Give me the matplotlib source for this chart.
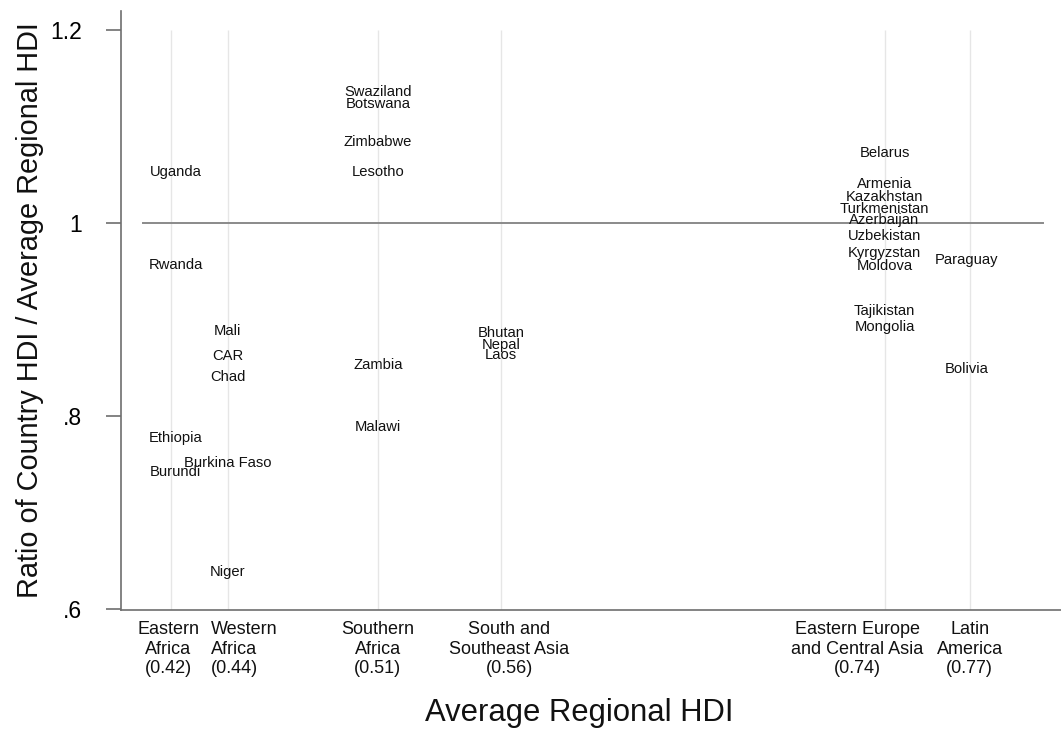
import matplotlib
matplotlib.use("Agg")
import matplotlib.pyplot as plt

plt.rcParams['font.family'] = ['Liberation Sans', 'DejaVu Sans']

# ---------------- data ----------------
regions = ["Eastern\nAfrica\n(0.42)", "Western\nAfrica\n(0.44)", "Southern\nAfrica\n(0.51)",
           "South and\nSoutheast Asia\n(0.56)", "Eastern Europe\nand Central Asia\n(0.74)",
           "Latin\nAmerica\n(0.77)"]
region_hdi = [0.417, 0.442, 0.509, 0.564, 0.735, 0.773]

countries = ["Uganda", "Rwanda", "Ethiopia", "Burundi",
             "Mali", "CAR", "Chad", "Burkina Faso", "Niger",
             "Swaziland", "Botswana", "Zimbabwe", "Lesotho", "Zambia", "Malawi",
             "Bhutan", "Nepal", "Laos",
             "Belarus", "Armenia", "Kazakhstan", "Turkmenistan", "Azerbaijan",
             "Uzbekistan", "Kyrgyzstan", "Moldova", "Tajikistan", "Mongolia",
             "Paraguay", "Bolivia"]
country_region = [0, 0, 0, 0,
                  1, 1, 1, 1, 1,
                  2, 2, 2, 2, 2, 2,
                  3, 3, 3,
                  4, 4, 4, 4, 4, 4, 4, 4, 4, 4,
                  5, 5]
ratio = [1.0525, 0.957, 0.777, 0.742,
         0.888, 0.862, 0.840, 0.751, 0.638,
         1.136, 1.123, 1.084, 1.0525, 0.853, 0.789,
         0.886, 0.874, 0.863,
         1.073, 1.040, 1.027, 1.015, 1.003, 0.987, 0.969, 0.955, 0.9085, 0.892,
         0.962, 0.849]

yticks = [0.6, 0.8, 1.0, 1.2]
ytick_labels = [".6", ".8", "1", "1.2"]

# ---------------- layout ----------------
W, H = 1061, 733
fig = plt.figure(figsize=(W / 100, H / 100), dpi=100)
ax_l, ax_r, ax_t, ax_b = 121, 1061, 11, 610
ax = fig.add_axes([ax_l / W, 1 - ax_b / H, (ax_r - ax_l) / W, (ax_b - ax_t) / H])

ax.set_xlim(0.3945, 0.8137)
ax.set_ylim(0.599, 1.2197)

axis_col = "#6e6e6e"
for s in ["top", "right"]:
    ax.spines[s].set_visible(False)
for s in ["left", "bottom"]:
    ax.spines[s].set_color(axis_col)
    ax.spines[s].set_linewidth(1.2)

# vertical light grid lines at regional HDI
ax.vlines(region_hdi, ax.get_ylim()[0], yticks[-1], colors="#e6e6e6", linewidth=1.0, zorder=0)

# reference line at 1
ax.axhline(1.0, xmin=0.0234, xmax=0.981, color="#8a8a8a", linewidth=1.4, zorder=1)

# country labels (small per-region pixel nudges of the label centres)
label_dx_px = [4, 0, 0, 0, 0, -3]
for name, r, v in zip(countries, country_region, ratio):
    ax.annotate(name, xy=(region_hdi[r], v), xytext=(label_dx_px[r], 0),
                textcoords="offset pixels", ha="center", va="center",
                fontsize=10.6, color="#111111", zorder=3)

# y axis
ax.set_yticks(yticks)
ax.set_yticklabels(ytick_labels, fontsize=16.5)
ax.tick_params(axis="y", length=10.8, width=1.2, color=axis_col, pad=17)

# x axis: custom category labels
ax.set_xticks([])
tick_dx_px = [-3, 17, 0, 8, -27, 0]
tick_align = ["center", "left", "center", "center", "center", "center"]
for lab, h, dx, al in zip(regions, region_hdi, tick_dx_px, tick_align):
    ax.annotate(lab, xy=(h, 0), xycoords=("data", "axes fraction"),
                xytext=(dx, -11), textcoords="offset pixels",
                ha="center", va="top", multialignment=al,
                fontsize=13, linespacing=1.2, color="#111111")

fig.text(579 / W, 1 - 713 / H, "Average Regional HDI", ha="center", va="center",
         fontsize=22.3, color="#111111")
fig.text(30 / W, 1 - 310 / H, "Ratio of Country HDI / Average Regional HDI",
         ha="center", va="center", rotation=90, fontsize=20.8, color="#111111")

fig.savefig("out.png", dpi=100)
